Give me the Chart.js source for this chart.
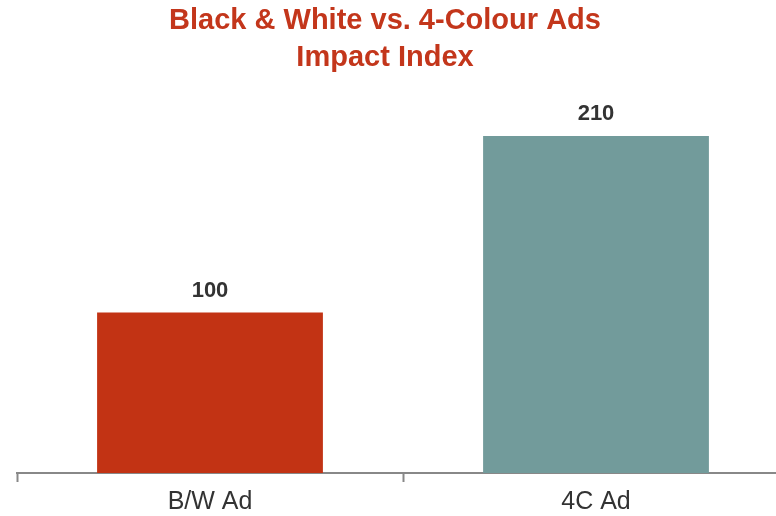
<!DOCTYPE html>
<html>
<head>
<meta charset="utf-8">
<script src="https://cdn.jsdelivr.net/npm/chart.js@4"></script>
<style>
  html, body { margin: 0; padding: 0; background: #fff; overflow: hidden; }
  #wrap { width: 789px; height: 516px; }
</style>
</head>
<body>
<div id="wrap"><canvas id="grafica"></canvas></div>
<script>
const categories = ['B/W Ad', '4C Ad'];
const impactIndex = [100, 210];
const barColours = ['#C23314', '#729B9B'];

// draws the value above each bar
const valueLabels = {
  id: 'valueLabels',
  afterLayout(chart) {
    // centre the title on the visible page rather than the wider canvas
    if (chart.titleBlock) {
      chart.titleBlock.left -= 18;
      chart.titleBlock.right -= 18;
    }
  },
  afterDatasetsDraw(chart) {
    const c = chart.ctx;
    const meta = chart.getDatasetMeta(0);
    c.save();
    c.font = 'bold 22px "Liberation Sans", Arial, sans-serif';
    c.fillStyle = '#333333';
    c.textAlign = 'center';
    c.textBaseline = 'middle';
    meta.data.forEach((bar, i) => {
      c.fillText(impactIndex[i], bar.x, bar.y - 22);
    });
    c.restore();
  }
};

new Chart(document.getElementById('grafica'), {
  type: 'bar',
  data: {
    labels: categories,
    datasets: [{
      data: impactIndex,
      backgroundColor: barColours,
      borderWidth: 0,
      categoryPercentage: 1,
      barPercentage: 0.585
    }]
  },
  options: {
    responsive: true,
    maintainAspectRatio: false,
    animation: false,
    layout: { padding: { left: 17, right: 0, top: 0, bottom: 0 } },
    scales: {
      x: {
        offset: true,
        afterFit(scale) { scale.height = 43; },
        grid: {
          offset: true,
          drawOnChartArea: false,
          drawTicks: true,
          tickLength: 9,
          tickWidth: 2,
          tickColor: '#888888'
        },
        border: { display: true, color: '#888888', width: 2 },
        ticks: {
          padding: 5,
          color: '#333333',
          font: { family: '"Liberation Sans", Arial, sans-serif', size: 25 }
        }
      },
      y: {
        display: false,
        min: 0,
        max: 220
      }
    },
    plugins: {
      legend: { display: false },
      tooltip: { enabled: false },
      title: {
        display: true,
        text: ['Black & White vs. 4-Colour Ads', 'Impact Index'],
        color: '#C3361B',
        font: { family: '"Liberation Sans", Arial, sans-serif', size: 29, weight: 'bold', lineHeight: 1.26 },
        padding: { top: 3, bottom: 44 }
      }
    }
  },
  plugins: [valueLabels]
});
</script>
</body>
</html>
